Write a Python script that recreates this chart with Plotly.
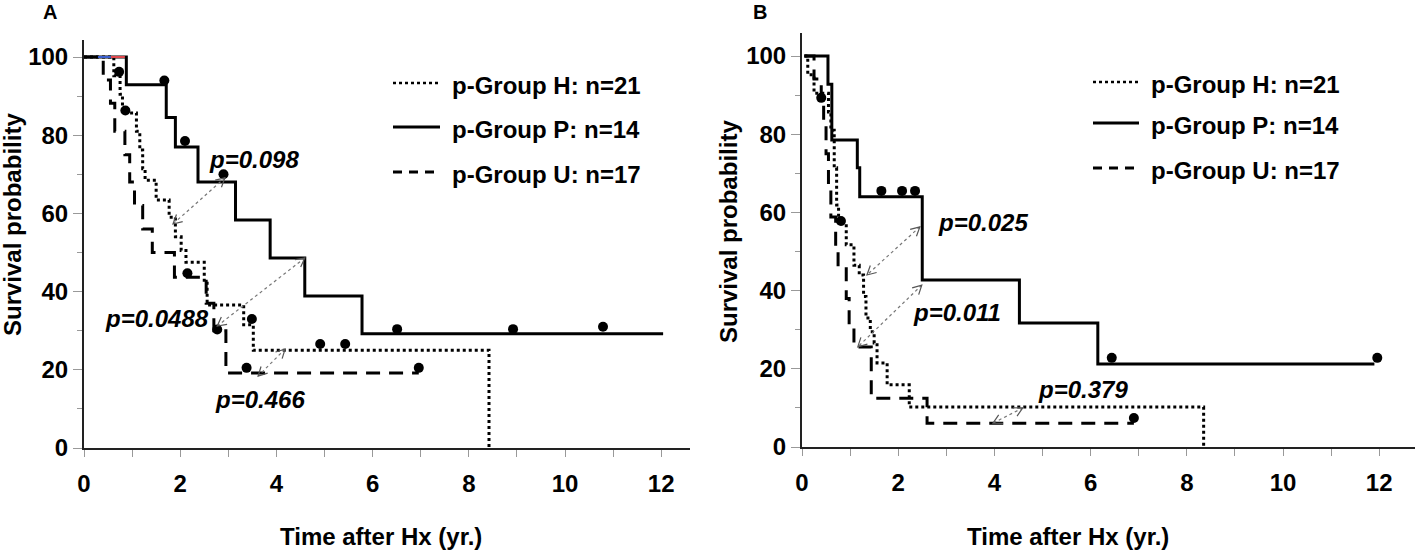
import math
import plotly.graph_objects as go

# ---------------- data ----------------
# Panel A
A_H_t = [0, 0.62, 0.75, 0.80, 1.09, 1.16, 1.22, 1.27, 1.50, 1.77, 1.90, 2.02, 2.12, 2.50, 2.56, 3.32, 3.52, 8.42]
A_H_s = [100, 95.2, 90.5, 85.7, 81.0, 76.2, 71.4, 68.5, 63.4, 59.0, 54.0, 50.5, 47.5, 42.5, 36.6, 31.5, 25.0, 0]
A_P_t = [0, 0.88, 1.71, 1.90, 2.37, 3.15, 3.87, 4.59, 5.78, 12.04]
A_P_s = [100, 92.9, 84.5, 77.0, 68.0, 58.3, 48.6, 38.9, 29.2, 29.2]
A_U_t = [0, 0.40, 0.55, 0.64, 0.85, 0.95, 1.05, 1.22, 1.42, 1.88, 2.54, 2.70, 2.95, 6.96]
A_U_s = [100, 94.1, 88.2, 81.0, 75.0, 68.0, 62.0, 56.0, 50.0, 43.7, 37.0, 30.0, 19.2, 19.2]
A_H_cens_t = [0.73, 0.86, 3.49, 4.91, 5.43]
A_H_cens_s = [96.2, 86.3, 33.0, 26.6, 26.6]
A_P_cens_t = [1.67, 2.10, 2.90, 6.51, 8.92, 10.79]
A_P_cens_s = [94.0, 78.5, 70.0, 30.4, 30.4, 31.0]
A_U_cens_t = [2.15, 2.77, 3.38, 6.96]
A_U_cens_s = [44.7, 30.3, 20.5, 20.5]
A_pvals = ["p=0.098", "p=0.0488", "p=0.466"]
A_pval_pos = [(3.53, 73.7), (1.51, 33.2), (3.66, 12.3)]
A_arrows = [((2.93, 69.1), (1.85, 57.3)), ((4.59, 48.6), (2.77, 31.2)), ((4.18, 25.3), (3.62, 18.4))]

# Panel B
B_H_t = [0.05, 0.12, 0.25, 0.55, 0.60, 0.67, 0.72, 0.76, 0.92, 1.08, 1.19, 1.28, 1.33, 1.42, 1.50, 1.56, 1.77, 2.23, 8.35]
B_H_s = [100, 95.2, 90.5, 85.7, 81.0, 71.4, 61.9, 57.1, 51.7, 46.5, 44.0, 38.5, 33.0, 29.5, 26.6, 21.5, 15.9, 10.2, 0]
B_P_t = [0.05, 0.54, 0.62, 1.15, 1.20, 2.50, 4.52, 6.15, 11.90]
B_P_s = [100, 92.8, 78.5, 71.4, 64.0, 42.7, 31.7, 21.2, 21.2]
B_U_t = [0.05, 0.25, 0.40, 0.45, 0.50, 0.55, 0.60, 0.70, 0.75, 0.92, 0.98, 1.08, 1.44, 2.60, 6.90]
B_U_s = [100, 94.1, 88.2, 82.4, 75.0, 66.5, 58.8, 51.0, 46.0, 38.0, 31.0, 25.6, 12.5, 6.1, 6.1]
B_H_cens_t = [0.40, 0.81]
B_H_cens_s = [89.3, 57.8]
B_P_cens_t = [1.65, 2.08, 2.35, 6.44, 11.96]
B_P_cens_s = [65.5, 65.5, 65.5, 22.8, 22.8]
B_U_cens_t = [6.90]
B_U_cens_s = [7.4]
B_pvals = ["p=0.025", "p=0.011", "p=0.379"]
B_pval_pos = [(3.76, 57.3), (3.22, 34.3), (5.84, 14.6)]
B_arrows = [((2.45, 56.3), (1.35, 44.0)), ((2.49, 41.4), (1.16, 25.6)), ((4.59, 10.0), (3.97, 6.1))]

legend_labels = ["p-Group H: n=21", "p-Group P: n=14", "p-Group U: n=17"]
x_ticks = [0, 2, 4, 6, 8, 10, 12]
y_ticks = [0, 20, 40, 60, 80, 100]

# ---------------- layout geometry ----------------
W, H = 1418, 552
FONT = "Arial, 'Liberation Sans', sans-serif"
PX_X = 48.1   # pixels per year
PX_Y = 3.91   # pixels per % point

def px_to_paper_x(px):
    return px / W

def px_to_paper_y(py):
    return 1 - py / H

panels = {
    "A": dict(x0=84, x1=690, y0=448, y1=40),
    "B": dict(x0=802, x1=1415, y0=447, y1=33),
}

styles = {"H": dict(dash="3px,3px", width=3),
          "P": dict(dash="solid", width=3),
          "U": dict(dash="14px,9px", width=3)}

fig = go.Figure()

def add_panel(xa, ya, curves, cens):
    for key, (t, s) in curves.items():
        fig.add_trace(go.Scatter(
            x=t, y=s, mode="lines", xaxis=xa, yaxis=ya, showlegend=False,
            line=dict(shape="hv", color="black", width=styles[key]["width"], dash=styles[key]["dash"]),
            hoverinfo="skip"))
    for key, (t, s) in cens.items():
        fig.add_trace(go.Scatter(
            x=t, y=s, mode="markers", xaxis=xa, yaxis=ya, showlegend=False,
            marker=dict(color="black", size=10), hoverinfo="skip"))

add_panel("x", "y",
          {"H": (A_H_t, A_H_s), "P": (A_P_t, A_P_s), "U": (A_U_t, A_U_s)},
          {"H": (A_H_cens_t, A_H_cens_s), "P": (A_P_cens_t, A_P_cens_s), "U": (A_U_cens_t, A_U_cens_s)})
add_panel("x2", "y2",
          {"H": (B_H_t, B_H_s), "P": (B_P_t, B_P_s), "U": (B_U_t, B_U_s)},
          {"H": (B_H_cens_t, B_H_cens_s), "P": (B_P_cens_t, B_P_cens_s), "U": (B_U_cens_t, B_U_cens_s)})

shapes = []
annotations = []

def arrow_shapes(p1, p2, xref, yref):
    out = []
    out.append(dict(type="line", xref=xref, yref=yref, x0=p1[0], y0=p1[1], x1=p2[0], y1=p2[1],
                    line=dict(color="#777", width=1.2, dash="dot"), layer="above"))
    for tip, tail in ((p1, p2), (p2, p1)):
        dx = (tail[0] - tip[0]) * PX_X
        dy = (tail[1] - tip[1]) * PX_Y
        L = math.hypot(dx, dy)
        ux, uy = dx / L, dy / L
        hl, ang = 10, math.radians(28)
        pts = []
        for sgn in (1, -1):
            c, s_ = math.cos(sgn * ang), math.sin(sgn * ang)
            rx = ux * c - uy * s_
            ry = ux * s_ + uy * c
            pts.append((tip[0] + rx * hl / PX_X, tip[1] + ry * hl / PX_Y))
        path = "M {},{} L {},{} L {},{}".format(pts[0][0], pts[0][1], tip[0], tip[1], pts[1][0], pts[1][1])
        out.append(dict(type="path", xref=xref, yref=yref, path=path,
                        line=dict(color="#555", width=1.2), layer="above"))
    return out

for (p1, p2) in A_arrows:
    shapes += arrow_shapes(p1, p2, "x", "y")
for (p1, p2) in B_arrows:
    shapes += arrow_shapes(p1, p2, "x2", "y2")

for txt, (px_, py_) in zip(A_pvals, A_pval_pos):
    annotations.append(dict(x=px_, y=py_, xref="x", yref="y", text=txt, showarrow=False,
                            font=dict(family=FONT, size=24, color="black", weight="bold", style="italic"),
                            xanchor="center", yanchor="middle"))
for txt, (px_, py_) in zip(B_pvals, B_pval_pos):
    annotations.append(dict(x=px_, y=py_, xref="x2", yref="y2", text=txt, showarrow=False,
                            font=dict(family=FONT, size=24, color="black", weight="bold", style="italic"),
                            xanchor="center", yanchor="middle"))

# small coloured segments visible at the top of panel A
shapes.append(dict(type="line", xref="x", yref="y", x0=0.29, x1=0.56, y0=100, y1=100,
                   line=dict(color="#3a5fcd", width=2), layer="above"))
shapes.append(dict(type="line", xref="x", yref="y", x0=0.56, x1=0.85, y0=100, y1=100,
                   line=dict(color="#e0474c", width=2), layer="above"))

# legends (manual)
legend_geom = {"A": dict(lx0=393, lx1=440, tx=450, rows=[83, 127, 172]),
               "B": dict(lx0=1093, lx1=1139, tx=1149, rows=[82, 123, 168])}
for g in legend_geom.values():
    for key, lab, row in zip(["H", "P", "U"], legend_labels, g["rows"]):
        dash = {"H": "3px,3px", "P": "solid", "U": "9px,7px"}[key]
        shapes.append(dict(type="line", xref="paper", yref="paper",
                           x0=px_to_paper_x(g["lx0"]), x1=px_to_paper_x(g["lx1"]),
                           y0=px_to_paper_y(row), y1=px_to_paper_y(row),
                           line=dict(color="black", width=3 if key != "H" else 2.5, dash=dash)))
        annotations.append(dict(x=px_to_paper_x(g["tx"]), y=px_to_paper_y(row + 2), xref="paper", yref="paper",
                                text=lab, showarrow=False, xanchor="left", yanchor="middle",
                                font=dict(family=FONT, size=24, color="black", weight="bold")))

# panel letters
for letter, (lx, ly) in {"A": (50, 12), "B": (760, 12)}.items():
    annotations.append(dict(x=px_to_paper_x(lx), y=px_to_paper_y(ly), xref="paper", yref="paper",
                            text=letter, showarrow=False, xanchor="center", yanchor="middle",
                            font=dict(family=FONT, size=20, color="black", weight="bold")))

# axis titles
for (cx, cy) in [(13, 225), (728, 232)]:
    annotations.append(dict(x=px_to_paper_x(cx), y=px_to_paper_y(cy), xref="paper", yref="paper",
                            text="Survival probability", textangle=-90, showarrow=False,
                            xanchor="center", yanchor="middle",
                            font=dict(family=FONT, size=24, color="black", weight="bold")))
for (cx, cy) in [(381, 536), (1068, 536)]:
    annotations.append(dict(x=px_to_paper_x(cx), y=px_to_paper_y(cy), xref="paper", yref="paper",
                            text="Time after Hx (yr.)", showarrow=False,
                            xanchor="center", yanchor="middle",
                            font=dict(family=FONT, size=24, color="black", weight="bold")))

def xaxis_cfg(p):
    g = panels[p]
    return dict(domain=[g["x0"] / W, g["x1"] / W], range=[0, (g["x1"] - g["x0"]) / PX_X],
                showline=True, linecolor="#222", linewidth=2, showgrid=False, zeroline=False,
                tickmode="array", tickvals=x_ticks, ticktext=[str(v) for v in x_ticks],
                ticks="outside", ticklen=7, tickcolor="#999", tickwidth=1,
                minor=dict(dtick=1, ticks="outside", ticklen=7, tickcolor="#999", tickwidth=1, showgrid=False),
                tickfont=dict(family=FONT, size=24, color="black", weight="bold"),
                ticklabelstandoff=6, fixedrange=True, automargin=False)

def yaxis_cfg(p, anchor):
    g = panels[p]
    return dict(domain=[1 - g["y0"] / H, 1 - g["y1"] / H], range=[0, (g["y0"] - g["y1"]) / PX_Y],
                anchor=anchor,
                showline=True, linecolor="#222", linewidth=2, showgrid=False, zeroline=False,
                tickmode="array", tickvals=y_ticks, ticktext=[str(v) for v in y_ticks],
                ticks="outside", ticklen=9, tickcolor="#999", tickwidth=1,
                minor=dict(dtick=10, ticks="outside", ticklen=5, tickcolor="#999", tickwidth=1, showgrid=False),
                tickfont=dict(family=FONT, size=24, color="black", weight="bold"),
                fixedrange=True, automargin=False)

fig.update_layout(
    width=W, height=H,
    margin=dict(l=0, r=0, t=0, b=0, pad=0, autoexpand=False),
    paper_bgcolor="white", plot_bgcolor="white",
    showlegend=False,
    xaxis=dict(xaxis_cfg("A"), anchor="y"),
    yaxis=yaxis_cfg("A", "x"),
    xaxis2=dict(xaxis_cfg("B"), anchor="y2"),
    yaxis2=yaxis_cfg("B", "x2"),
    shapes=shapes,
    annotations=annotations,
)

fig.write_html(
    "out.html",
    config={"displayModeBar": False, "responsive": False},
    post_script="document.body.style.margin='0';document.body.style.padding='0';"
                "document.body.style.overflow='hidden';"
                "document.documentElement.style.overflow='hidden';",
)
